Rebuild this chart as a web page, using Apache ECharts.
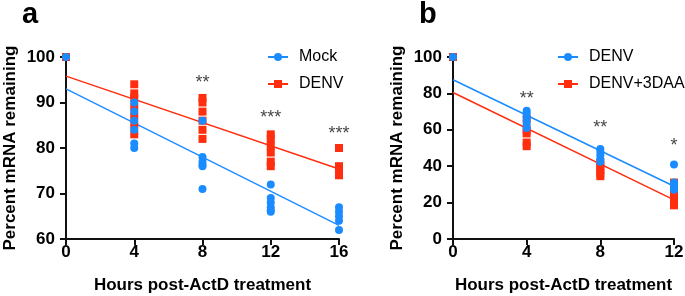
<!DOCTYPE html>
<html>
<head>
<meta charset="utf-8">
<script src="https://cdn.jsdelivr.net/npm/echarts@6/dist/echarts.min.js"></script>
<style>html,body{margin:0;padding:0;background:#fff}#c{width:685px;height:296px}</style>
</head>
<body>
<div id="c"></div>
<script>
// ---- Panel a data ----
var hoursA = [0, 4, 8, 12, 16];
var mockA = [[100], [90, 88, 86, 84, 81, 80], [86, 78, 77, 76.3, 76, 71], [72, 69, 68, 67, 66.3, 66], [67, 66, 65, 64, 62]];
var denvA = [[100], [94, 92, 91, 89, 87, 85, 83], [91, 90, 88, 86, 84, 82], [83, 82, 80.5, 79, 77, 76], [80, 76, 75, 74]];
var fitXA = [0, 16];
var fitMockA = [93, 63];
var fitDenvA = [95.8, 75.4];
var sigA = [[8, 94.3, '**'], [12, 86.6, '***'], [16, 83, '***']];
var yTicksA = [60, 100, 10];

// ---- Panel b data ----
var hoursB = [0, 4, 8, 12];
var denvB = [[100], [70.5, 69, 67, 65, 63, 61], [49.5, 48, 46, 44, 42.5], [41, 31, 29.5, 28, 27]];
var daaB = [[100], [66, 60, 58, 53, 51], [42, 40, 38, 36, 34.5], [31, 27, 24, 21, 18.5]];
var fitXB = [0, 12];
var fitDenvB = [87.5, 29];
var fitDaaB = [80.5, 21.5];
var sigB = [[4, 77, '**'], [8, 61, '**'], [12, 51, '*']];
var yTicksB = [0, 100, 20];

var BLUE = '#1a8cff';
var RED = '#ff2e0f';
var FONT = '"Liberation Sans", Arial, Helvetica, sans-serif';

function pairs(xs, groups) {
  var out = [];
  xs.forEach(function (x, i) { groups[i].forEach(function (v) { out.push([x, v]); }); });
  return out;
}
function linePts(xs, ys) { return xs.map(function (x, i) { return [x, ys[i]]; }); }

function xAxis(idx, max) {
  return {
    type: 'value', gridIndex: idx, min: 0, max: max, interval: 4,
    name: 'Hours post-ActD treatment', nameLocation: 'middle', nameGap: 38,
    nameTextStyle: { fontFamily: FONT, fontWeight: 'bold', fontSize: 17, color: '#000' },
    axisLine: { show: true, onZero: false, lineStyle: { color: '#111', width: 2 } },
    axisTick: { show: true, length: 6, lineStyle: { color: '#111', width: 2 } },
    axisLabel: { fontFamily: FONT, fontWeight: 'bold', fontSize: 17, color: '#000', margin: 5 },
    splitLine: { show: false }
  };
}
function yAxis(idx, t) {
  return {
    type: 'value', gridIndex: idx, min: t[0], max: t[1], interval: t[2],
    name: 'Percent mRNA remaining', nameLocation: 'middle', nameGap: 47,
    nameTextStyle: { fontFamily: FONT, fontWeight: 'bold', fontSize: 17, color: '#000' },
    axisLine: { show: true, onZero: false, lineStyle: { color: '#111', width: 2 } },
    axisTick: { show: true, length: 6, lineStyle: { color: '#111', width: 2 } },
    axisLabel: { fontFamily: FONT, fontWeight: 'bold', fontSize: 17, color: '#000', margin: 11 },
    splitLine: { show: false }
  };
}
function fitSeries(name, idx, xs, ys, color, sym) {
  return {
    name: name, type: 'line', xAxisIndex: idx, yAxisIndex: idx,
    data: linePts(xs, ys), symbol: sym, symbolSize: 8, showSymbol: false,
    lineStyle: { color: color, width: 1.5 }, itemStyle: { color: color },
    silent: true, z: 2, animation: false
  };
}
function dotSeries(name, idx, data, color, sym, z) {
  return {
    name: name + ' pts', type: 'scatter', xAxisIndex: idx, yAxisIndex: idx,
    data: data, symbol: sym, symbolSize: 8, clip: false,
    itemStyle: { color: color, opacity: 1 }, z: z, animation: false
  };
}
function sigSeries(idx, data) {
  return {
    type: 'scatter', xAxisIndex: idx, yAxisIndex: idx, data: data,
    symbolSize: 1, itemStyle: { color: 'rgba(0,0,0,0)' }, clip: false, z: 5,
    label: { show: true, position: 'inside', fontFamily: FONT, fontSize: 18, color: '#111',
      formatter: function (p) { return p.data[2]; } },
    animation: false, silent: true
  };
}
function legend(left, names) {
  return {
    orient: 'vertical', left: left, top: 44, itemWidth: 20, itemHeight: 10, itemGap: 11,
    data: names, selectedMode: false,
    textStyle: { fontFamily: FONT, fontSize: 16, color: '#000', padding: [0, 0, 0, 6] }
  };
}

var chart = echarts.init(document.getElementById('c'), null, { renderer: 'canvas' });
chart.setOption({
  animation: false,
  title: [
    { text: 'a', left: 17, top: -5, textStyle: { fontFamily: FONT, fontWeight: 'bold', fontSize: 29, color: '#000' } },
    { text: 'b', left: 414, top: -5, textStyle: { fontFamily: FONT, fontWeight: 'bold', fontSize: 29, color: '#000' } }
  ],
  grid: [
    { left: 66, top: 57, width: 273, height: 182, containLabel: false, outerBoundsMode: 'none' },
    { left: 453, top: 57, width: 221, height: 182, containLabel: false, outerBoundsMode: 'none' }
  ],
  legend: [legend(262, ['Mock', 'DENV']), legend(552, ['DENV ', 'DENV+3DAA'])],
  xAxis: [xAxis(0, 16), xAxis(1, 12)],
  yAxis: [yAxis(0, yTicksA), yAxis(1, yTicksB)],
  series: [
    fitSeries('DENV', 0, fitXA, fitDenvA, RED, 'rect'),
    fitSeries('Mock', 0, fitXA, fitMockA, BLUE, 'circle'),
    dotSeries('DENV', 0, pairs(hoursA, denvA), RED, 'rect', 3),
    dotSeries('Mock', 0, pairs(hoursA, mockA), BLUE, 'circle', 4),
    sigSeries(0, sigA),
    fitSeries('DENV+3DAA', 1, fitXB, fitDaaB, RED, 'rect'),
    fitSeries('DENV ', 1, fitXB, fitDenvB, BLUE, 'circle'),
    dotSeries('DENV+3DAA', 1, pairs(hoursB, daaB), RED, 'rect', 3),
    dotSeries('DENV ', 1, pairs(hoursB, denvB), BLUE, 'circle', 4),
    sigSeries(1, sigB)
  ]
});
</script>
</body>
</html>
